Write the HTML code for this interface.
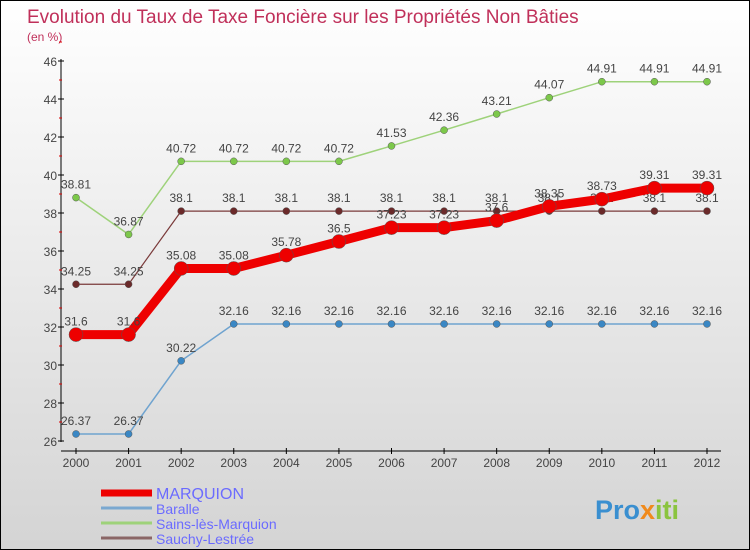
<!DOCTYPE html>
<html><head><meta charset="utf-8"><style>
body{margin:0}
#c{width:748px;height:548px;border:1px solid #000;background:linear-gradient(#fff,#d4d4d4);position:relative;font-family:"Liberation Sans",sans-serif;overflow:hidden}
</style></head><body>
<div id="c">
<svg id="s" width="748" height="548">
<text x="26" y="22" font-size="19" fill="#c0305a">Evolution du Taux de Taxe Foncière sur les Propriétés Non Bâties</text>
<text x="26" y="40" font-size="12" fill="#c0305a">(en %)</text>
<g id="g"></g>
<text x="594" y="518" font-size="27" font-weight="bold" fill="#3a8fd0">Pro<tspan fill="#f08a1c">x</tspan><tspan fill="#8bc43f">iti</tspan></text>
</svg>
</div>
<script>
const years=[2000,2001,2002,2003,2004,2005,2006,2007,2008,2009,2010,2011,2012];
const yTicks=[26,28,30,32,34,36,38,40,42,44,46];
const marquion=[31.6,31.6,35.08,35.08,35.78,36.5,37.23,37.23,37.6,38.35,38.73,39.31,39.31];
const baralle=[26.37,26.37,30.22,32.16,32.16,32.16,32.16,32.16,32.16,32.16,32.16,32.16,32.16];
const sains=[38.81,36.87,40.72,40.72,40.72,40.72,41.53,42.36,43.21,44.07,44.91,44.91,44.91];
const sauchy=[34.25,34.25,38.1,38.1,38.1,38.1,38.1,38.1,38.1,38.1,38.1,38.1,38.1];
const NS="http://www.w3.org/2000/svg",g=document.getElementById('g');
const X=i=>75+i*(706-75)/12, Y=v=>440-(v-26)*(380/20);
function el(t,a){const e=document.createElementNS(NS,t);for(const k in a)e.setAttribute(k,a[k]);g.appendChild(e);return e;}
let e=el('line',{x1:60,y1:58,x2:60,y2:441,stroke:'#000'});


e=el('line',{x1:60,y1:450,x2:720,y2:450,stroke:'#000'});


yTicks.forEach(v=>{
 let t=el('line',{x1:57,x2:63,y1:Y(v),y2:Y(v),stroke:'#000'});
 
 
 let m=el('line',{x1:58,x2:61,y1:Y(v+1),y2:Y(v+1),stroke:'#d00'});
 
 
 let l=el('text',{x:56,y:Y(v)+5,'text-anchor':'end','font-size':12,fill:'#444'});l.textContent=v;
 
 
});
years.forEach((y,i)=>{
 let t=el('line',{x1:X(i),x2:X(i),y1:447,y2:453,stroke:'#000'});
 
 
 let l=el('text',{x:X(i),y:466,'text-anchor':'middle','font-size':12,fill:'#444'});l.textContent=y;
 
 
});
function series(d,color,w,r,name,dot){
 let p=el('polyline',{points:d.map((v,i)=>X(i)+','+Y(v)).join(' '),fill:'none',stroke:color,'stroke-width':w});
 
 
 d.forEach((v,i)=>{
  let c=el('circle',{cx:X(i),cy:Y(v),r:r,fill:dot||color,stroke:'#555','stroke-width':0.5});
  
  
  let l=el('text',{x:X(i),y:Y(v)-9,'text-anchor':'middle','font-size':12,fill:'#444'});l.textContent=v;
  
  
 });
}
series(sains,'#9ed27a',1.5,3.5,'sains','#7cc84a');
series(sauchy,'#7a3a3a',1.2,3.5,'sauchy','#6b2a2a');
series(baralle,'#6fa3cf',1.5,3.5,'baralle','#3a87c4');
series(marquion,'#ee0000',9,7,'marquion');
const legend=[['MARQUION','#ee0000',7],['Baralle','#7aa8d0',3],['Sains-lès-Marquion','#9ed27a',3],['Sauchy-Lestrée','#8a6666',3]];
legend.forEach((L,i)=>{
 let y=492+i*15;
 let ln=el('line',{x1:100,x2:151,y1:y,y2:y,stroke:L[1],'stroke-width':L[2]});
 
 
 let t=el('text',{x:155,y:y+6,'font-size':i?14:16,fill:'#6b6bff'});t.textContent=L[0];
 
 
});
</script>
</body></html>
